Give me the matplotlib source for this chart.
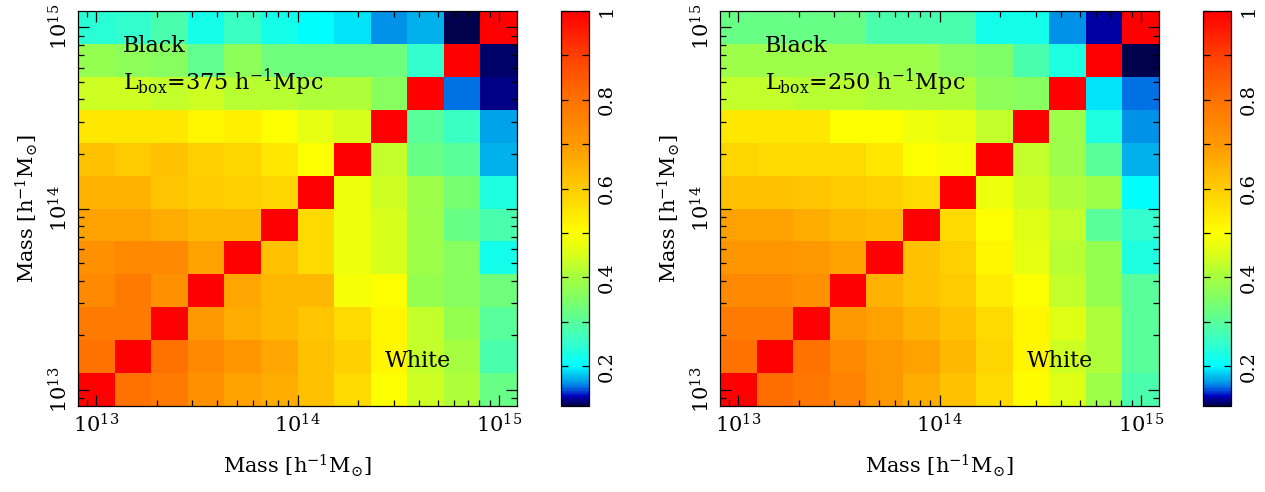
import numpy as np
import matplotlib
matplotlib.use("Agg")
import matplotlib.pyplot as plt
from matplotlib.colors import LinearSegmentedColormap, Normalize
from matplotlib.ticker import FixedLocator, FixedFormatter, LogLocator, NullFormatter

plt.rcParams['font.family'] = ['DejaVu Serif']
plt.rcParams['mathtext.fontset'] = 'dejavuserif'

# ---- data ----
log_mass_edges = np.linspace(12.91, 15.09, 13)   # 12 log-mass bins

# rows: low mass (bottom) -> high mass (top); columns: low -> high mass
corr_375 = np.array([
    [1.00, 0.80, 0.78, 0.72, 0.68, 0.66, 0.62, 0.57, 0.50, 0.44, 0.41, 0.32],
    [0.80, 1.00, 0.80, 0.74, 0.71, 0.67, 0.62, 0.59, 0.52, 0.43, 0.40, 0.28],
    [0.78, 0.78, 1.00, 0.70, 0.66, 0.64, 0.61, 0.57, 0.52, 0.43, 0.38, 0.30],
    [0.74, 0.78, 0.72, 1.00, 0.67, 0.64, 0.64, 0.49, 0.50, 0.38, 0.36, 0.33],
    [0.72, 0.74, 0.74, 0.68, 1.00, 0.62, 0.57, 0.48, 0.45, 0.39, 0.36, 0.22],
    [0.68, 0.68, 0.66, 0.64, 0.64, 1.00, 0.57, 0.48, 0.45, 0.39, 0.32, 0.28],
    [0.65, 0.65, 0.61, 0.60, 0.59, 0.58, 1.00, 0.48, 0.44, 0.39, 0.34, 0.23],
    [0.62, 0.60, 0.62, 0.59, 0.58, 0.55, 0.50, 1.00, 0.43, 0.32, 0.30, 0.17],
    [0.55, 0.55, 0.55, 0.52, 0.53, 0.50, 0.47, 0.45, 1.00, 0.30, 0.26, 0.165],
    [0.44, 0.44, 0.43, 0.44, 0.42, 0.42, 0.41, 0.41, 0.36, 1.00, 0.15, 0.12],
    [0.38, 0.37, 0.36, 0.31, 0.37, 0.33, 0.33, 0.33, 0.33, 0.25, 1.00, 0.115],
    [0.24, 0.25, 0.28, 0.22, 0.26, 0.22, 0.20, 0.19, 0.16, 0.17, 0.11, 1.00],
])

corr_250 = np.array([
    [1.00, 0.81, 0.79, 0.76, 0.70, 0.66, 0.62, 0.57, 0.51, 0.46, 0.39, 0.28],
    [0.80, 1.00, 0.80, 0.74, 0.70, 0.68, 0.64, 0.58, 0.52, 0.44, 0.41, 0.30],
    [0.78, 0.78, 1.00, 0.70, 0.68, 0.65, 0.62, 0.57, 0.52, 0.46, 0.41, 0.30],
    [0.74, 0.74, 0.72, 1.00, 0.65, 0.62, 0.60, 0.54, 0.50, 0.43, 0.38, 0.30],
    [0.71, 0.71, 0.70, 0.68, 1.00, 0.62, 0.59, 0.52, 0.47, 0.42, 0.38, 0.23],
    [0.68, 0.68, 0.66, 0.64, 0.63, 1.00, 0.57, 0.50, 0.46, 0.43, 0.30, 0.25],
    [0.62, 0.62, 0.61, 0.60, 0.59, 0.57, 1.00, 0.48, 0.44, 0.41, 0.39, 0.20],
    [0.58, 0.57, 0.57, 0.57, 0.55, 0.50, 0.49, 1.00, 0.43, 0.39, 0.30, 0.17],
    [0.55, 0.55, 0.55, 0.50, 0.50, 0.48, 0.47, 0.43, 1.00, 0.39, 0.23, 0.16],
    [0.43, 0.43, 0.42, 0.42, 0.41, 0.41, 0.41, 0.37, 0.36, 1.00, 0.19, 0.15],
    [0.39, 0.39, 0.39, 0.39, 0.39, 0.39, 0.36, 0.35, 0.28, 0.23, 1.00, 0.11],
    [0.32, 0.32, 0.32, 0.32, 0.28, 0.28, 0.28, 0.22, 0.22, 0.16, 0.125, 1.00],
])

box_labels = ["375", "250"]
cbar_ticks = [0.2, 0.4, 0.6, 0.8, 1.0]
cbar_ticklabels = ["0.2", "0.4", "0.6", "0.8", "1"]
mass_ticks = [1e13, 1e14, 1e15]
mass_ticklabels = [r"$10^{13}$", r"$10^{14}$", r"$10^{15}$"]

# ---- colormap ----
vmin, vmax = 0.11, 1.0
nodes = [
    (0.11, (0.00, 0.00, 0.30)),
    (0.13, (0.00, 0.00, 0.75)),
    (0.15, (0.00, 0.45, 0.90)),
    (0.17, (0.00, 0.70, 0.92)),
    (0.20, (0.00, 1.00, 1.00)),
    (0.25, (0.20, 1.00, 0.80)),
    (0.30, (0.35, 1.00, 0.60)),
    (0.35, (0.50, 1.00, 0.40)),
    (0.40, (0.65, 1.00, 0.25)),
    (0.45, (0.85, 1.00, 0.10)),
    (0.50, (1.00, 1.00, 0.00)),
    (0.60, (1.00, 0.80, 0.00)),
    (0.70, (1.00, 0.60, 0.00)),
    (0.80, (1.00, 0.45, 0.00)),
    (0.90, (1.00, 0.25, 0.00)),
    (1.00, (1.00, 0.00, 0.00)),
]
cmap = LinearSegmentedColormap.from_list(
    "corr", [((v - vmin) / (vmax - vmin), c) for v, c in nodes], N=180)
norm = Normalize(vmin=vmin, vmax=vmax)

W, H = 1265, 492
fig = plt.figure(figsize=(W / 100, H / 100), dpi=100)

ax_specs = [
    (78, 561),
    (720, 1203),
]
ax_w, cb_w = 439, 28
top, bottom = 11, 406

edges = 10 ** log_mass_edges
fs_text = 16
fs_lab = 15
fs_tick = 15

for (x0, cx0), corr, lbox in zip(ax_specs, [corr_375, corr_250], box_labels):
    ax = fig.add_axes([x0 / W, 1 - bottom / H, ax_w / W, (bottom - top) / H])
    ax.pcolormesh(edges, edges, corr, cmap=cmap, norm=norm, shading='flat')
    ax.set_xscale('log')
    ax.set_yscale('log')
    ax.set_xlim(edges[0], edges[-1])
    ax.set_ylim(edges[0], edges[-1])
    for a in (ax.xaxis, ax.yaxis):
        a.set_major_locator(FixedLocator(mass_ticks))
        a.set_major_formatter(FixedFormatter(mass_ticklabels))
        a.set_minor_locator(LogLocator(base=10, subs=np.arange(2, 10)))
        a.set_minor_formatter(NullFormatter())
    ax.tick_params(which='both', direction='in', top=True, right=True,
                   color='black', width=0.9)
    ax.tick_params(which='major', length=8, labelsize=fs_tick, pad=5)
    ax.tick_params(which='minor', length=4)
    for lab in ax.get_yticklabels():
        lab.set_rotation(90)
        lab.set_va('center')
    for s in ax.spines.values():
        s.set_linewidth(0.9)
    ax.set_xlabel(r"Mass [h$^{-1}$M$_{\odot}$]", fontsize=fs_lab, labelpad=12)
    ax.set_ylabel(r"Mass [h$^{-1}$M$_{\odot}$]", fontsize=fs_lab, labelpad=6)
    ax.text(0.103, 0.897, "Black", transform=ax.transAxes, fontsize=fs_text,
            ha='left', va='baseline')
    ax.text(0.103, 0.80, r"L$_{\rm box}$=" + lbox + r" h$^{-1}$Mpc",
            transform=ax.transAxes, fontsize=fs_text, ha='left', va='baseline')
    ax.text(0.70, 0.099, "White", transform=ax.transAxes, fontsize=fs_text,
            ha='left', va='baseline')

    cax = fig.add_axes([cx0 / W, 1 - bottom / H, cb_w / W, (bottom - top) / H])
    cb = fig.colorbar(plt.cm.ScalarMappable(norm=norm, cmap=cmap), cax=cax)
    cb.outline.set_linewidth(0.9)
    cax.yaxis.set_major_locator(FixedLocator(cbar_ticks))
    cax.yaxis.set_major_formatter(FixedFormatter(cbar_ticklabels))
    cax.yaxis.set_minor_locator(FixedLocator([0.3, 0.5, 0.7, 0.9]))
    cax.tick_params(which='both', direction='in', left=True, right=True,
                    length=5, width=0.9, labelsize=14, pad=6)
    for lab in cax.get_yticklabels():
        lab.set_rotation(90)
        lab.set_va('center')

fig.savefig("out.png", dpi=100)
